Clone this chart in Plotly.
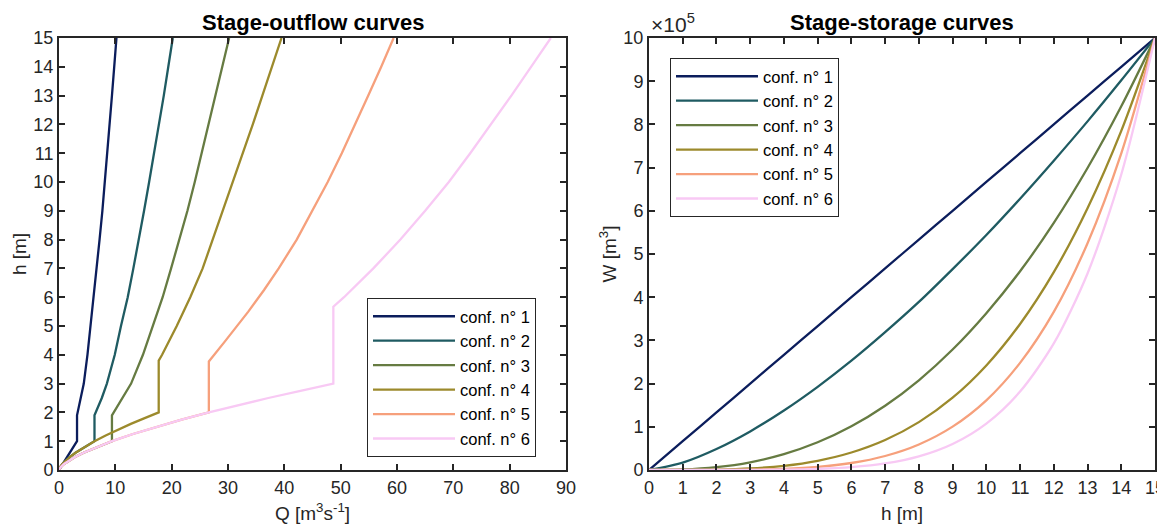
import plotly.graph_objects as go

FONT = "Liberation Sans, Arial, Helvetica, sans-serif"
names = ["conf. n° 1", "conf. n° 2", "conf. n° 3", "conf. n° 4", "conf. n° 5", "conf. n° 6"]
colors = ["#0b1d5c", "#1f5b62", "#667b42", "#9c8a2c", "#f6a07c", "#f8c9f4"]

# ---- Stage-outflow curves: discharge Q [m3/s] and stage h [m]
q1 = [0, 3.2, 3.2, 3.85, 4.4, 5.05, 5.6, 6.2, 6.7, 7.2, 7.7, 8.15, 8.6, 9.0, 9.4, 9.8, 10.2]
h1 = [0, 1.0, 1.9, 2.5, 3, 4, 5, 6, 7, 8, 9, 10, 11, 12, 13, 14, 15]

q2 = [0, 0.07, 0.2, 0.56, 1.04, 1.9, 2.93, 4.51, 6.3, 6.3, 7.6, 8.5, 9.9, 11.0, 12.2, 13.2, 14.2, 15.1, 16.0, 16.9, 17.8, 18.6, 19.4, 20.2]
h2 = [0, 0.05, 0.1, 0.2, 0.3, 0.45, 0.6, 0.8, 1.0, 1.9, 2.5, 3, 4, 5, 6, 7, 8, 9, 10, 11, 12, 13, 14, 15]

q3 = [0, 0.105, 0.297, 0.84, 1.55, 2.84, 4.37, 6.73, 9.4, 9.4, 11.3, 12.8, 14.9, 16.7, 18.4, 19.9, 21.4, 22.8, 24.1, 25.3, 26.6, 27.8, 29.0, 30.2]
h3 = [0, 0.05, 0.1, 0.2, 0.3, 0.45, 0.6, 0.8, 1.0, 1.9, 2.5, 3, 4, 5, 6, 7, 8, 9, 10, 11, 12, 13, 14, 15]

q4 = [0, 0.07, 0.2, 0.56, 1.04, 1.9, 2.93, 4.51, 6.3, 8.28, 10.44, 12.75, 15.21, 17.7, 17.7, 18.3, 20.9, 23.3, 25.5, 27.3, 29.1, 30.9, 32.6, 34.4, 36.1, 37.8, 39.5]
h4 = [0, 0.05, 0.1, 0.2, 0.3, 0.45, 0.6, 0.8, 1.0, 1.2, 1.4, 1.6, 1.8, 2.0, 3.8, 4, 5, 6, 7, 8, 9, 10, 11, 12, 13, 14, 15]

q5 = [0, 0.105, 0.297, 0.84, 1.55, 2.84, 4.37, 6.73, 9.4, 13.14, 17.27, 21.76, 26.6, 26.6, 29.6, 33.6, 36.4, 39.0, 42.2, 45.0, 47.7, 50.2, 52.6, 54.9, 57.2, 59.4]
h5 = [0, 0.05, 0.1, 0.2, 0.3, 0.45, 0.6, 0.8, 1.0, 1.25, 1.5, 1.75, 2.0, 3.77, 4.5, 5.5, 6.25, 7, 8, 9, 10, 11, 12, 13, 14, 15]

q6 = [0, 0.105, 0.297, 0.84, 1.55, 2.84, 4.37, 6.73, 9.4, 13.14, 17.27, 21.76, 26.6, 31.73, 37.16, 42.87, 48.7, 48.7, 50.6, 55.8, 60.6, 65.0, 69.2, 73.0, 76.7, 80.3, 83.8, 87.3]
h6 = [0, 0.05, 0.1, 0.2, 0.3, 0.45, 0.6, 0.8, 1.0, 1.25, 1.5, 1.75, 2.0, 2.25, 2.5, 2.75, 3.0, 5.67, 6, 7, 8, 9, 10, 11, 12, 13, 14, 15]

# ---- Stage-storage curves: volume W [x1e5 m3] at stage h [m]
h_st = [0, 1, 2, 3, 4, 5, 6, 7, 8, 9, 10, 11, 12, 13, 14, 15]
w1 = [0, 0.667, 1.333, 2.0, 2.667, 3.333, 4.0, 4.667, 5.333, 6.0, 6.667, 7.333, 8.0, 8.667, 9.333, 10]
w2 = [0, 0.172, 0.487, 0.894, 1.377, 1.925, 2.53, 3.19, 3.89, 4.65, 5.44, 6.28, 7.16, 8.07, 9.02, 10]
w3 = [0, 0.011, 0.065, 0.179, 0.367, 0.641, 1.012, 1.488, 2.077, 2.789, 3.63, 4.60, 5.72, 6.99, 8.42, 10]
w4 = [0, 0.001, 0.009, 0.036, 0.098, 0.214, 0.405, 0.694, 1.108, 1.673, 2.42, 3.38, 4.58, 6.06, 7.85, 10]
w5 = [0, 0.0, 0.001, 0.007, 0.026, 0.071, 0.162, 0.324, 0.591, 1.004, 1.613, 2.48, 3.66, 5.25, 7.33, 10]
w6 = [0, 0.0, 0.0, 0.001, 0.007, 0.024, 0.065, 0.151, 0.315, 0.602, 1.075, 1.816, 2.93, 4.55, 6.84, 10]

outflow = [(q1, h1), (q2, h2), (q3, h3), (q4, h4), (q5, h5), (q6, h6)]
storage = [w1, w2, w3, w4, w5, w6]

fig = go.Figure()
for i, (q, h) in enumerate(outflow):
    fig.add_trace(go.Scatter(x=q, y=h, mode="lines", name=names[i],
                             line=dict(color=colors[i], width=2.3),
                             xaxis="x", yaxis="y", legend="legend"))
for i, w in enumerate(storage):
    fig.add_trace(go.Scatter(x=h_st, y=w, mode="lines", name=names[i],
                             line=dict(color=colors[i], width=2.3, shape="spline", smoothing=0.8),
                             xaxis="x2", yaxis="y2", legend="legend2"))

axis_common = dict(showline=True, linewidth=2, linecolor="#262626", mirror="ticks",
                   ticks="inside", ticklen=6, tickwidth=1.5, tickcolor="#262626",
                   showgrid=False, zeroline=False, automargin=False,
                   ticklabeloverflow="allow",
                   tickfont=dict(family=FONT, size=18, color="#262626"))
title_font = dict(family=FONT, size=19, color="#262626")

legend_common = dict(bgcolor="white", bordercolor="#262626", borderwidth=1,
                     font=dict(family=FONT, size=16.5, color="black"),
                     xanchor="left", yanchor="top", itemwidth=82, tracegroupgap=0,
                     traceorder="normal")

# The page body keeps an 8 px margin, so pixel positions are shifted by 8 px.
W, H = 1165, 520
fig.update_layout(
    width=W, height=H,
    margin=dict(l=0, r=0, t=0, b=0, autoexpand=False),
    paper_bgcolor="white", plot_bgcolor="white",
    font=dict(family=FONT),
    xaxis=dict(domain=[51 / W, 558 / W], range=[0, 90], dtick=10, anchor="y",
               title=dict(text="Q [m<sup>3</sup>s<sup>-1</sup>]", font=title_font, standoff=10),
               **axis_common),
    yaxis=dict(domain=[58 / H, 490 / H], range=[0, 15], dtick=1, anchor="x",
               title=dict(text="h [m]", font=title_font, standoff=2),
               **axis_common),
    xaxis2=dict(domain=[641 / W, 1147 / W], range=[0, 15], dtick=1, anchor="y2",
                title=dict(text="h [m]", font=title_font, standoff=10),
                **axis_common),
    yaxis2=dict(domain=[58 / H, 490 / H], range=[0, 10], dtick=1, anchor="x2",
                title=dict(text="W [m<sup>3</sup>]", font=title_font, standoff=2),
                **axis_common),
    legend=dict(x=359 / W, y=(H - 290) / H, **legend_common),
    legend2=dict(x=662 / W, y=(H - 50) / H, **legend_common),
    annotations=[
        dict(text="<b>Stage-outflow curves</b>", x=304.5 / W, y=(H - 14) / H, xref="paper", yref="paper",
             xanchor="center", yanchor="middle", showarrow=False,
             font=dict(family=FONT, size=22, color="black")),
        dict(text="<b>Stage-storage curves</b>", x=894 / W, y=(H - 14) / H, xref="paper", yref="paper",
             xanchor="center", yanchor="middle", showarrow=False,
             font=dict(family=FONT, size=22, color="black")),
        dict(text="×10<sup>5</sup>", x=641 / W, y=(H - 15) / H, xref="paper", yref="paper",
             xanchor="left", yanchor="middle", showarrow=False,
             font=dict(family=FONT, size=21, color="#262626")),
    ],
)

fig.write_html("out.html")
